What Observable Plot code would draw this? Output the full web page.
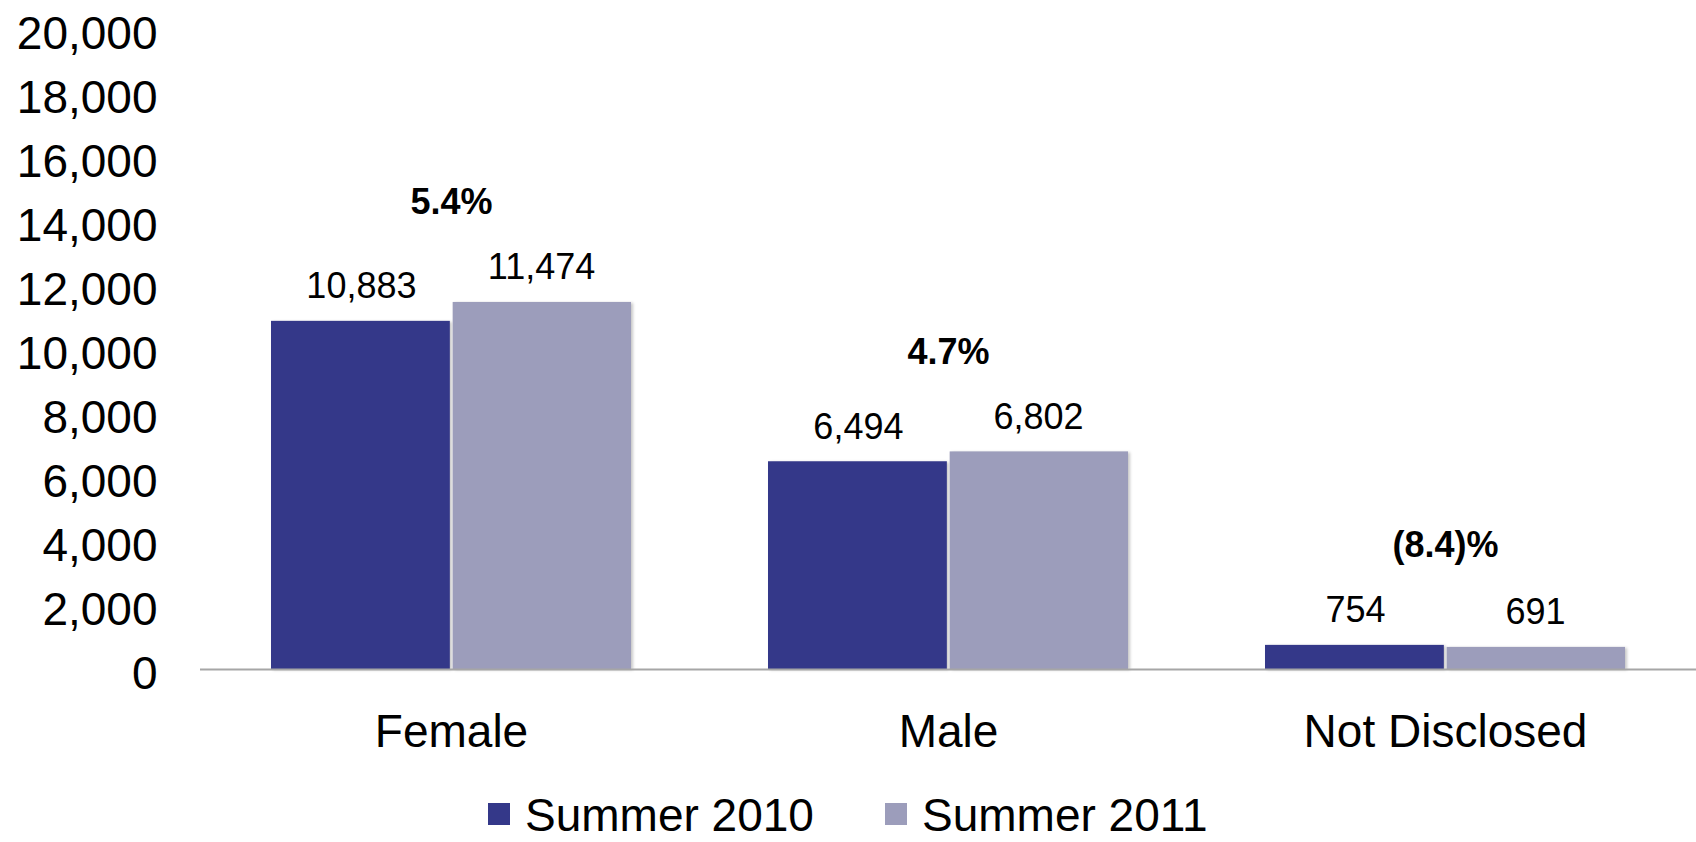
<!DOCTYPE html>
<html>
<head>
<meta charset="utf-8">
<script src="https://cdn.jsdelivr.net/npm/d3@7"></script>
<script src="https://cdn.jsdelivr.net/npm/@observablehq/plot@0.6"></script>
<style>
  html, body { margin: 0; padding: 0; background: #fff; overflow: hidden; }
  #wrap { position: relative; width: 1696px; height: 842px; font-family: "Liberation Sans", Arial, sans-serif; }
  #wrap svg { display: block; }
  .leg-sq { position: absolute; width: 22px; height: 22px; }
  .leg-tx { position: absolute; font-size: 46px; line-height: 41px; height: 41px; color: #000; white-space: nowrap; }
  g[aria-label="bar"] { filter: drop-shadow(2px 1px 1.5px rgba(0,0,0,0.22)); }
</style>
</head>
<body>
<div id="wrap"></div>
<script>
// ---- data ----
const categories = ["Female", "Male", "Not Disclosed"];
const summer2010 = [10883, 6494, 754];
const summer2011 = [11474, 6802, 691];
const changeLabels = ["5.4%", "4.7%", "(8.4)%"];
const seriesNames = ["Summer 2010", "Summer 2011"];
const seriesColors = ["#343889", "#9c9dbb"];
const yTicks = [0, 2000, 4000, 6000, 8000, 10000, 12000, 14000, 16000, 18000, 20000];

// ---- table ----
const rows = categories.map((c, i) => ({
  category: c,
  v2010: summer2010[i],
  v2011: summer2011[i],
  change: changeLabels[i],
  top: Math.max(summer2010[i], summer2011[i])
}));

const W = 1696, H = 780, ML = 200, MR = 0, MT = 26, MB = 111;
const xOpts = {type: "band", domain: categories, paddingInner: 0.275, paddingOuter: 0.1425, align: 0.5};
const xs = Plot.scale({x: {...xOpts, range: [ML, W - MR]}});
const bw = xs.bandwidth;
const half = bw / 2;
const fontFam = '"Liberation Sans", Arial, sans-serif';

const chart = Plot.plot({
  width: W,
  height: H,
  marginLeft: ML,
  marginRight: MR,
  marginTop: MT,
  marginBottom: MB,
  style: {fontFamily: fontFam, background: "#fff", color: "#000", overflow: "visible"},
  x: {...xOpts, axis: null, label: null},
  y: {domain: [0, 20100], axis: null, label: null},
  marks: [
    Plot.barY(rows, {x: "category", y: "v2010", fill: seriesColors[0], insetLeft: 0, insetRight: half + 1}),
    Plot.barY(rows, {x: "category", y: "v2011", fill: seriesColors[1], insetLeft: half + 1.5, insetRight: 0}),
    Plot.axisY({ticks: yTicks, tickFormat: d3.format(","), tickSize: 0, tickPadding: 43, fontSize: 46, dy: 5, fill: "#000", label: null, line: true, stroke: "#a6a6a6", strokeWidth: 2, strokeOpacity: 1}),
    Plot.ruleY([0], {stroke: "#a6a6a6", strokeWidth: 2}),
    Plot.axisX({tickSize: 0, tickPadding: 45, fontSize: 46, fill: "#000", label: null}),
    Plot.text(rows, {x: "category", y: "v2010", text: d => d3.format(",")(d.v2010), dx: -half / 2, dy: -23, lineAnchor: "bottom", fontSize: 36, fill: "#000"}),
    Plot.text(rows, {x: "category", y: "v2011", text: d => d3.format(",")(d.v2011), dx: half / 2, dy: -23, lineAnchor: "bottom", fontSize: 36, fill: "#000"}),
    Plot.text(rows, {x: "category", y: "top", text: "change", dy: -88, lineAnchor: "bottom", fontSize: 36, fontWeight: "bold", fill: "#000"})
  ]
});

const wrap = document.getElementById("wrap");
wrap.appendChild(chart);

// ---- legend (HTML, below the SVG) ----
const legendPos = [{sq: 488, tx: 525}, {sq: 885, tx: 922}];
seriesNames.forEach((name, i) => {
  const sq = document.createElement("div");
  sq.className = "leg-sq";
  sq.style.left = legendPos[i].sq + "px";
  sq.style.top = "803px";
  sq.style.background = seriesColors[i];
  wrap.appendChild(sq);
  const tx = document.createElement("div");
  tx.className = "leg-tx";
  tx.style.left = legendPos[i].tx + "px";
  tx.style.top = "795px";
  tx.textContent = name;
  wrap.appendChild(tx);
});
</script>
</body>
</html>
